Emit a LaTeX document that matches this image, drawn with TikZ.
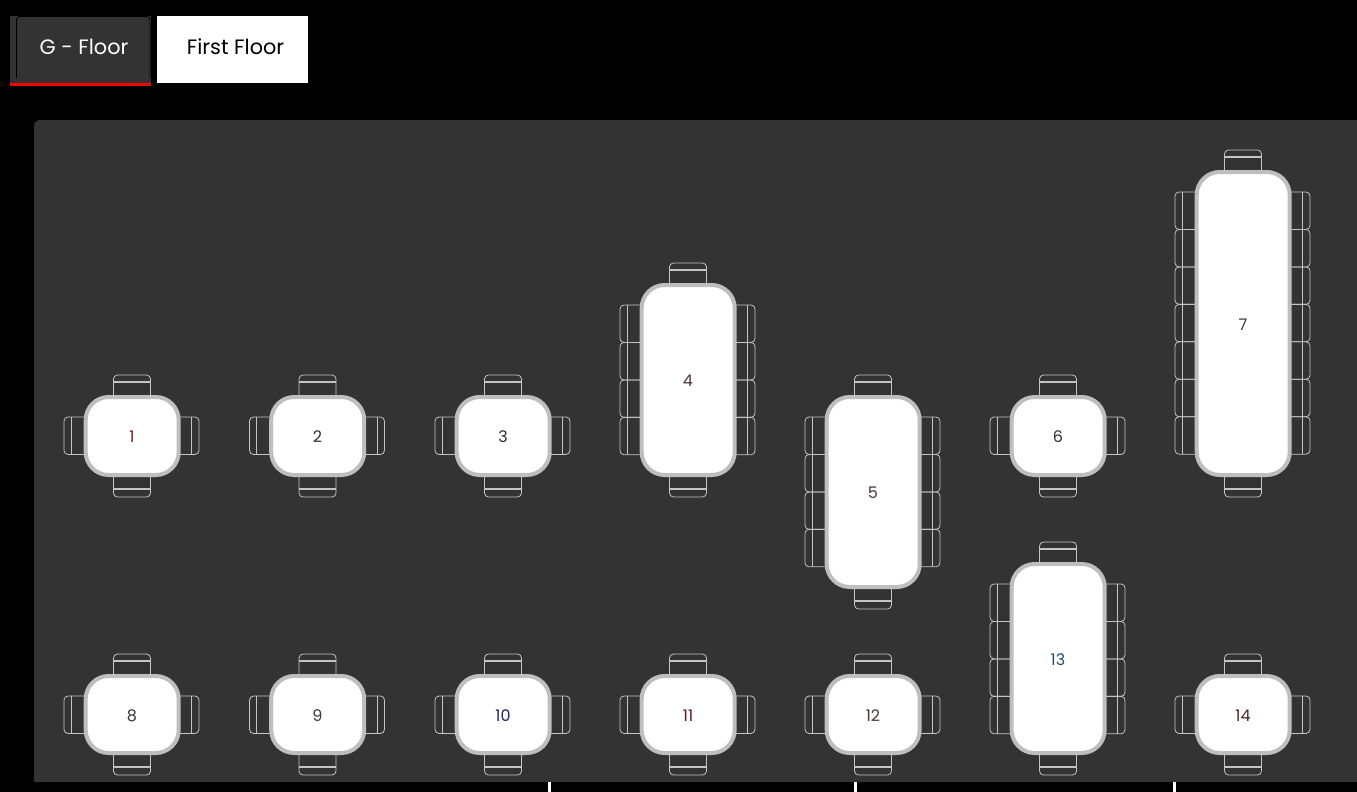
\documentclass[tikz,border=0pt]{standalone}
\usepackage{fontspec}
\setmainfont{Poppins}
\definecolor{panel}{HTML}{333333}
\definecolor{rimgray}{HTML}{BEBEBE}
\definecolor{chairline}{HTML}{C4C4C4}
\definecolor{tabred}{HTML}{FF0000}
\definecolor{labelteal}{HTML}{1F4F6B}
\newcommand{\TopChair}[2]{% centre x, table top y
  \draw[chairstroke,rounded corners=4pt] (#1-18.5,#2+1) -- (#1-18.5,#2-20) -- (#1+18.5,#2-20) -- (#1+18.5,#2+1);
  \draw[chairbar] (#1-18.5,#2-13) -- (#1+18.5,#2-13);}
\newcommand{\BotChair}[2]{% centre x, table bottom y
  \draw[chairstroke,rounded corners=4pt] (#1-18.5,#2-1) -- (#1-18.5,#2+20) -- (#1+18.5,#2+20) -- (#1+18.5,#2-1);
  \draw[chairbar] (#1-18.5,#2+12) -- (#1+18.5,#2+12);}
\newcommand{\SideChairs}[3]{% centre x, first chair top y, count
  \foreach \k in {1,...,#3}{
    \pgfmathsetmacro{\yt}{#2+(\k-1)*37.45}
    \pgfmathsetmacro{\yb}{\yt+37.45}
    \draw[chairstroke,rounded corners=4pt] (#1-44,\yt) -- (#1-68,\yt) -- (#1-68,\yb) -- (#1-44,\yb);
    \draw[chairbar] (#1-60.8,\yt) -- (#1-60.8,\yb);
    \draw[chairstroke,rounded corners=4pt] (#1+44,\yt) -- (#1+67,\yt) -- (#1+67,\yb) -- (#1+44,\yb);
    \draw[chairbar] (#1+59.8,\yt) -- (#1+59.8,\yb);
  }}
\newcommand{\DiningTable}[5]{% name, centre x, top y, bottom y, label colour
  \TopChair{#2}{#3}
  \BotChair{#2}{#4}
  \pgfmathsetmacro{\nc}{int(round((#4-#3-44)/37.45))}
  \SideChairs{#2}{#3+22}{\nc}
  \draw[tablerim] (#2-46.3,#3+2) rectangle (#2+46.7,#4-2);
  \node[tablelabel,text=#5] (t#1) at (#2,{(#3+#4)/2+6.6}) {#1};}
\tikzset{
  chairstroke/.style={draw=chairline,line width=0.8pt},
  chairbar/.style={draw=chairline,line width=1.3pt},
  tablerim/.style={draw=rimgray,fill=white,line width=4pt,rounded corners=23pt},
  tablelabel/.style={font=\fontsize{16}{18}\selectfont,inner sep=0pt,anchor=base},
  tablabel/.style={font=\fontsize{20.8}{24}\selectfont,inner sep=0pt,anchor=base}
}
\begin{document}
\begin{tikzpicture}[x=1pt,y=-1pt]
\useasboundingbox (0,0) rectangle (1357,792);
\fill[black] (0,0) rectangle (1357,792);
% tabs
\fill[panel] (10,16) rectangle (151,83);
\fill[tabred] (10,82.8) rectangle (151,86);
\draw[black,line width=0.8pt,rounded corners=3pt] (16.5,78) -- (16.5,16.6) -- (150,16.6) -- (150,78);
\node[tablabel,text=white] (tabg) at (84,55) {G - Floor};
\fill[white] (157,16) rectangle (308,83);
\node[tablabel,text=black] (tabf) at (235.5,55) {First Floor};
% panel
\fill[panel,rounded corners=6pt] (1375,120) -- (34,120) -- (34,790) -- (1375,790) -- cycle;
\fill[black] (30,782) rectangle (1375,792);
% ticks
\fill[white] (548,782) rectangle (551,792);
\fill[white] (854,782) rectangle (857,792);
\fill[white] (1173,782) rectangle (1176,792);
% tables
\DiningTable{1}{132}{395}{477}{red!40!black!90}
\DiningTable{2}{317.5}{395}{477}{black!82}
\DiningTable{3}{503}{395}{477}{black!82}
\DiningTable{4}{688}{283}{477}{red!12!black!80}
\DiningTable{5}{873}{395}{589}{red!14!black!80}
\DiningTable{6}{1058}{395}{477}{black!82}
\DiningTable{7}{1243}{170}{477}{red!6!black!78}
\DiningTable{8}{132}{674}{755}{black!78}
\DiningTable{9}{317.5}{674}{755}{blue!8!black!78}
\DiningTable{10}{503}{674}{755}{blue!25!black!85}
\DiningTable{11}{688}{674}{755}{purple!35!black!90}
\DiningTable{12}{873}{674}{755}{orange!12!black!82}
\DiningTable{13}{1058}{562}{755}{labelteal}
\DiningTable{14}{1243}{674}{755}{red!18!black!85}
\end{tikzpicture}
\end{document}
